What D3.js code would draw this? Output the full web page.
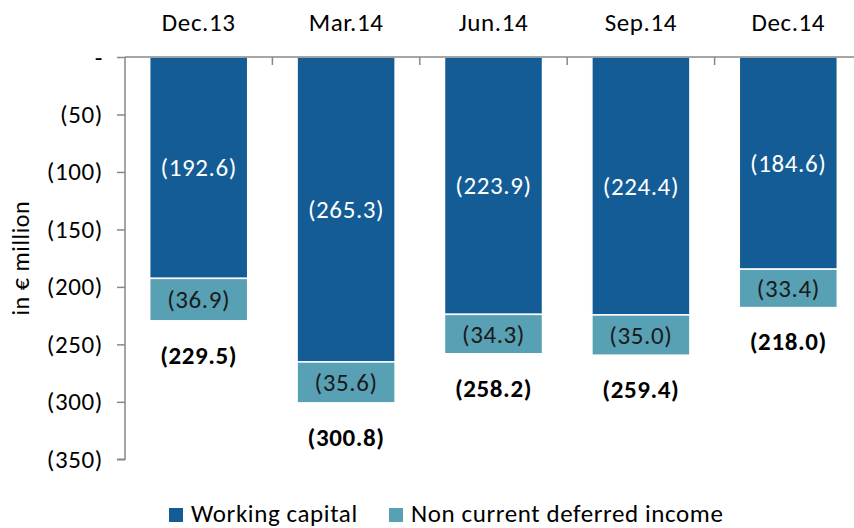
<!DOCTYPE html>
<html><head><meta charset="utf-8">
<script src="https://cdn.jsdelivr.net/npm/d3@7"></script>
<style>
body{margin:0;background:#fff;}
text{font-family:Carlito, Calibri, Lato, "Open Sans", sans-serif;letter-spacing:0.6px;}
</style></head>
<body>
<svg id="c" width="854" height="528"></svg>
<script>
const categories = ["Dec.13","Mar.14","Jun.14","Sep.14","Dec.14"];
const workingCapital = [192.6, 265.3, 223.9, 224.4, 184.6];
const deferredIncome = [36.9, 35.6, 34.3, 35.0, 33.4];
const totals = [229.5, 300.8, 258.2, 259.4, 218.0];
const yTicks = [0,50,100,150,200,250,300,350];
const seriesNames = ["Working capital","Non current deferred income"];
const colors = ["#135C96","#58A0B4"];
const FS = 25;

const svg = d3.select("#c");
const x = d3.scaleBand().domain(categories).range([125, 862]).paddingInner(0.335).paddingOuter(0.1675);
const y = d3.scaleLinear().domain([0,350]).range([57, 459.3]);
const fmt = v => "(" + v.toFixed(1) + ")";

// bars
categories.forEach((c,i)=>{
  const g = svg.append("g");
  g.append("rect").attr("x",x(c)).attr("width",x.bandwidth())
    .attr("y",y(0)).attr("height",y(workingCapital[i])-y(0))
    .attr("fill",colors[0]).attr("stroke","#fff").attr("stroke-width",1.5);
  g.append("rect").attr("x",x(c)).attr("width",x.bandwidth())
    .attr("y",y(workingCapital[i])).attr("height",y(workingCapital[i]+deferredIncome[i])-y(workingCapital[i]))
    .attr("fill",colors[1]).attr("stroke","#fff").attr("stroke-width",1.5);
  const cx = x(c)+x.bandwidth()/2;
  g.append("text").attr("x",cx).attr("y",(y(0)+y(workingCapital[i]))/2).attr("dy","0.35em")
    .attr("text-anchor","middle").attr("fill","#fff").attr("font-size",FS).text(fmt(workingCapital[i]));
  g.append("text").attr("x",cx).attr("y",(y(workingCapital[i])+y(workingCapital[i]+deferredIncome[i]))/2).attr("dy","0.35em")
    .attr("text-anchor","middle").attr("fill","#1a1a1a").attr("font-size",FS).text(fmt(deferredIncome[i]));
  g.append("text").attr("x",cx).attr("y",y(workingCapital[i]+deferredIncome[i])+34).attr("dy","0.35em")
    .attr("text-anchor","middle").attr("fill","#000").attr("font-size",FS).attr("font-weight","bold").text(fmt(totals[i]));
});

// y axis
const yAxis = d3.axisLeft(y).tickValues(yTicks).tickSize(8).tickPadding(14)
  .tickFormat(v => v===0 ? "-" : "(" + v + ")");
const ya = svg.append("g").attr("transform","translate(125,0)").call(yAxis);
ya.select(".domain").attr("stroke","#888").attr("stroke-width",1.5).attr("d","M-8,"+y(350)+"H0V"+y(0));
ya.selectAll(".tick line").attr("stroke","#888").attr("stroke-width",1.5);
ya.selectAll(".tick text").attr("font-size",FS).attr("fill","#000");

// top category axis
const xa = svg.append("g");
xa.append("line").attr("x1",125).attr("x2",854).attr("y1",y(0)).attr("y2",y(0)).attr("stroke","#888").attr("stroke-width",1.5);
categories.slice(1).forEach(c=>{
  const bx = x(c) - x.step()*x.paddingInner()/2;
  xa.append("line").attr("x1",bx).attr("x2",bx).attr("y1",y(0)).attr("y2",y(0)+8).attr("stroke","#888").attr("stroke-width",1.5);
});
categories.forEach(c=>{
  xa.append("text").attr("x",x(c)+x.bandwidth()/2).attr("y",22).attr("dy","0.35em")
    .attr("text-anchor","middle").attr("font-size",FS).attr("fill","#000").text(c);
});

// y title
svg.append("text").attr("transform","translate(21,"+((y(0)+y(350))/2)+") rotate(-90)")
  .attr("text-anchor","middle").attr("dy","0.35em").attr("font-size",FS-1).attr("fill","#000").text("in € million");

// legend
const legX = [169, 389];
seriesNames.forEach((n,i)=>{
  svg.append("rect").attr("x",legX[i]).attr("y",508).attr("width",14).attr("height",14).attr("fill",colors[i]);
  svg.append("text").attr("x",legX[i]+22).attr("y",513).attr("dy","0.35em").attr("font-size",FS).attr("fill","#000").text(n);
});
</script>
</body></html>
